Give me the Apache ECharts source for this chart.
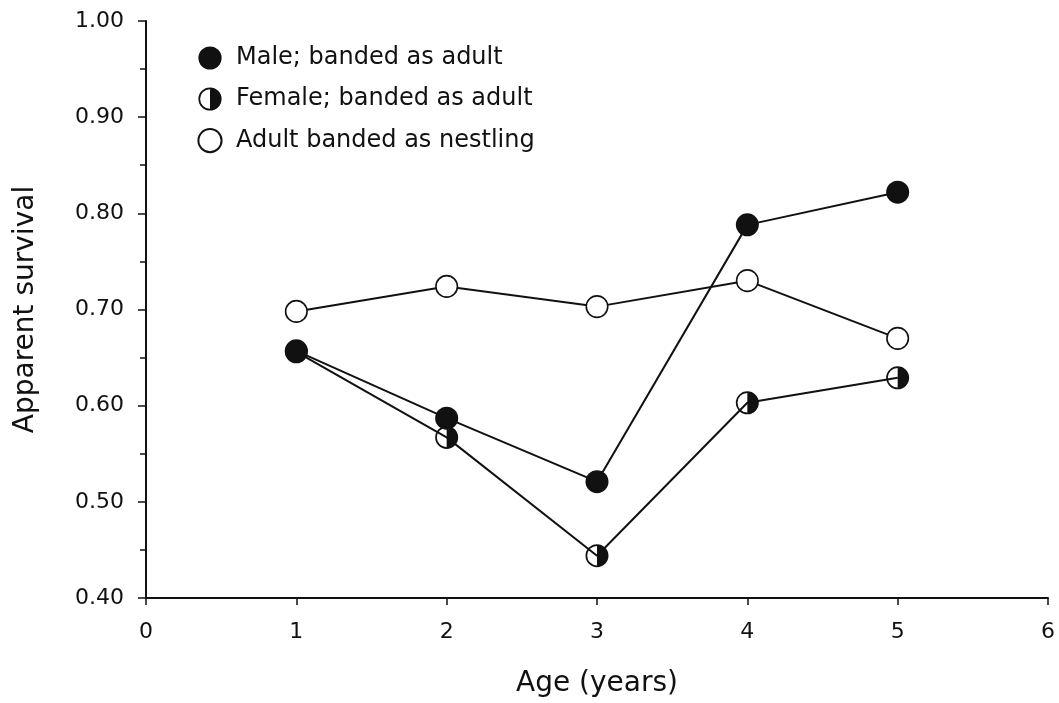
<!DOCTYPE html>
<html>
<head>
<meta charset="utf-8">
<script src="https://cdn.jsdelivr.net/npm/echarts@6/dist/echarts.min.js"></script>
<style>
html,body{margin:0;padding:0;background:#fff;}
#chart{width:1059px;height:703px;}
</style>
</head>
<body>
<div id="chart"></div>
<script>
var ages = [1, 2, 3, 4, 5];
var maleAdult = [0.657, 0.587, 0.521, 0.788, 0.822];
var femaleAdult = [0.656, 0.567, 0.444, 0.603, 0.629];
var nestling = [0.698, 0.724, 0.703, 0.730, 0.670];
var xTicks = [0, 1, 2, 3, 4, 5, 6];
var yTicks = [0.40, 0.50, 0.60, 0.70, 0.80, 0.90, 1.00];
var seriesNames = ['Male; banded as adult', 'Female; banded as adult', 'Adult banded as nestling'];

function pairs(vals) { return ages.map(function (a, i) { return [a, vals[i]]; }); }

var FONT = 'DejaVu Sans';
var INK = '#111';
var halfPath = 'path://M10,0A10,10,0,1,1,10,20A10,10,0,1,1,10,0ZM10,1.5A8.5,8.5,0,0,0,10,18.5Z';

var chart = echarts.init(document.getElementById('chart'), null, {renderer: 'canvas'});
chart.setOption({
  animation: false,
  backgroundColor: '#fff',
  grid: {left: 146, right: 11, top: 21, bottom: 102, containLabel: false},
  legend: {
    data: seriesNames,
    orient: 'vertical',
    left: 184,
    top: 41,
    itemWidth: 42,
    itemHeight: 29,
    itemGap: 17,
    selectedMode: false,
    lineStyle: {color: 'transparent', width: 0},
    textStyle: {fontFamily: FONT, fontSize: 24, color: INK}
  },
  xAxis: {
    type: 'value',
    min: xTicks[0],
    max: xTicks[xTicks.length - 1],
    interval: 1,
    name: 'Age (years)',
    nameLocation: 'middle',
    nameGap: 72,
    nameTextStyle: {fontFamily: FONT, fontSize: 28, color: INK},
    axisLine: {show: true, onZero: false, lineStyle: {color: INK, width: 2}},
    axisTick: {show: true, inside: false, length: 7, lineStyle: {color: INK, width: 1.5}},
    axisLabel: {fontFamily: FONT, fontSize: 22, color: INK, margin: 23},
    splitLine: {show: false}
  },
  yAxis: {
    type: 'value',
    min: yTicks[0],
    max: yTicks[yTicks.length - 1],
    interval: 0.1,
    name: 'Apparent survival',
    nameLocation: 'middle',
    nameGap: 106,
    nameTextStyle: {fontFamily: FONT, fontSize: 28, color: INK},
    axisLine: {show: true, onZero: false, lineStyle: {color: INK, width: 2}},
    axisTick: {show: true, inside: false, length: 8, lineStyle: {color: INK, width: 1.5}},
    minorTick: {show: true, splitNumber: 2, length: 6, lineStyle: {color: INK, width: 1.5}},
    axisLabel: {fontFamily: FONT, fontSize: 22, color: INK, margin: 22,
      formatter: function (v) { return v.toFixed(2); }},
    splitLine: {show: false}
  },
  series: [
    {
      name: seriesNames[1],
      type: 'line',
      data: pairs(femaleAdult),
      symbol: halfPath,
      symbolSize: 23,
      z: 2,
      lineStyle: {color: INK, width: 2},
      itemStyle: {color: INK, borderWidth: 0}
    },
    {
      name: seriesNames[0],
      type: 'line',
      data: pairs(maleAdult),
      symbol: 'circle',
      symbolSize: 23,
      z: 3,
      lineStyle: {color: INK, width: 2},
      itemStyle: {color: INK, borderWidth: 0}
    },
    {
      name: seriesNames[2],
      type: 'line',
      data: pairs(nestling),
      symbol: 'circle',
      symbolSize: 21.5,
      z: 4,
      lineStyle: {color: INK, width: 2},
      itemStyle: {color: '#fff', borderColor: INK, borderWidth: 1.6}
    }
  ]
});
</script>
</body>
</html>
